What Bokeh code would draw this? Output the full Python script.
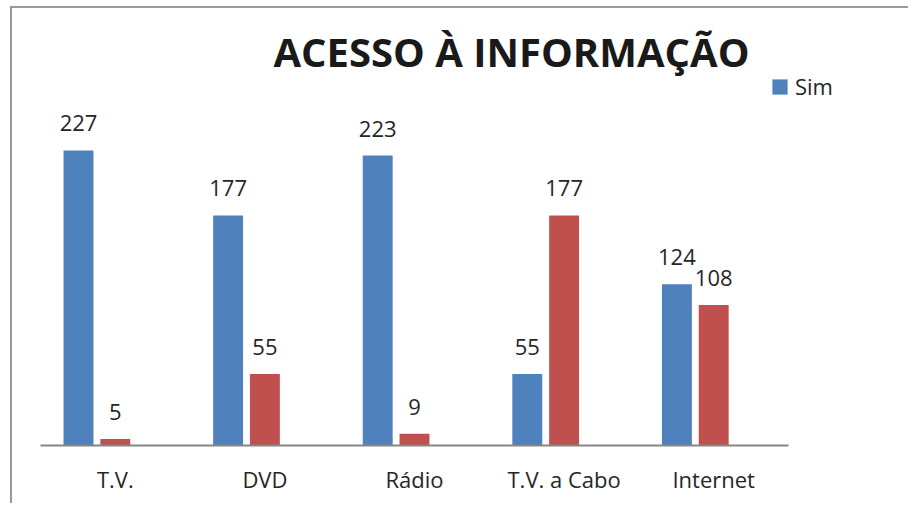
from bokeh.plotting import figure
from bokeh.models import ColumnDataSource, Label, Legend, LegendItem, Range1d, FixedTicker
from bokeh.embed import file_html
from bokeh.resources import INLINE
from bokeh.core.properties import value

categories = ["T.V.", "DVD", "Rádio", "T.V. a Cabo", "Internet"]
sim = [227, 177, 223, 55, 124]
nao = [5, 55, 9, 177, 108]
title_text = "ACESSO À INFORMAÇÃO"
legend_label = "Sim"

BLUE = "#4F81BD"
RED = "#C0504D"
FONT = "Open Sans"
TXT = "#262626"

OFF = -0.246
W = 0.2
centers = [i + 0.5 for i in range(len(categories))]

src = ColumnDataSource(dict(xs=[c + OFF for c in centers], xn=centers, sim=sim, nao=nao,
                            sim_lbl=[str(v) for v in sim],
                            nao_lbl=[str(v) for v in nao]))

p = figure(x_range=Range1d(0, 5.381), y_range=Range1d(0, 326.9),
           width=898, height=497, output_backend="svg", toolbar_location=None,
           min_border_left=28, min_border_right=65, min_border_top=12, min_border_bottom=60)
p.styles = {"border-left": "2px solid #9a9a9a", "border-top": "2px solid #9a9a9a",
            "margin-left": "10px", "margin-top": "6px"}
p.outline_line_color = None
p.xgrid.grid_line_color = None
p.ygrid.grid_line_color = None
p.yaxis.visible = False
p.background_fill_color = "white"
p.border_fill_color = "white"

rb = p.vbar(x="xs", top="sim", width=W, source=src, fill_color=BLUE, line_color=None)
rr = p.vbar(x="xn", top="nao", width=W, source=src, fill_color=RED, line_color=None)

p.text(x="xs", y="sim", text="sim_lbl", source=src,
       text_align="center", text_baseline="alphabetic", y_offset=-27,
       text_font=value(FONT), text_font_size="22px", text_color=TXT)
p.text(x="xn", y="nao", text="nao_lbl", source=src,
       text_align="center", text_baseline="alphabetic", y_offset=-27,
       text_font=value(FONT), text_font_size="22px", text_color=TXT)

ax = p.xaxis[0]
ax.ticker = FixedTicker(ticks=centers)
ax.major_label_overrides = {c: lab for c, lab in zip(centers, categories)}
ax.bounds = (0, len(categories))
ax.axis_line_color = "#868686"
ax.axis_line_width = 2
ax.major_tick_line_color = None
ax.minor_tick_line_color = None
ax.major_label_text_font = FONT
ax.major_label_text_font_size = "22px"
ax.major_label_text_color = TXT
ax.major_label_standoff = 12

p.add_layout(Label(x=471, y=394, x_units="screen", y_units="screen", text=title_text,
                   text_align="center", text_baseline="alphabetic",
                   text_font=FONT, text_font_size="40px", text_font_style="bold",
                   text_color="#1a1a1a"))

legend = Legend(items=[LegendItem(label=legend_label, renderers=[rb])],
                location=(730, 344), orientation="vertical",
                glyph_width=19, glyph_height=19, label_text_font=FONT,
                label_text_font_size="22px", label_text_color=TXT,
                padding=0, margin=0, spacing=0, label_standoff=6,
                border_line_color=None, background_fill_alpha=0)
p.add_layout(legend)

open("out.html", "w").write(file_html(p, INLINE))
